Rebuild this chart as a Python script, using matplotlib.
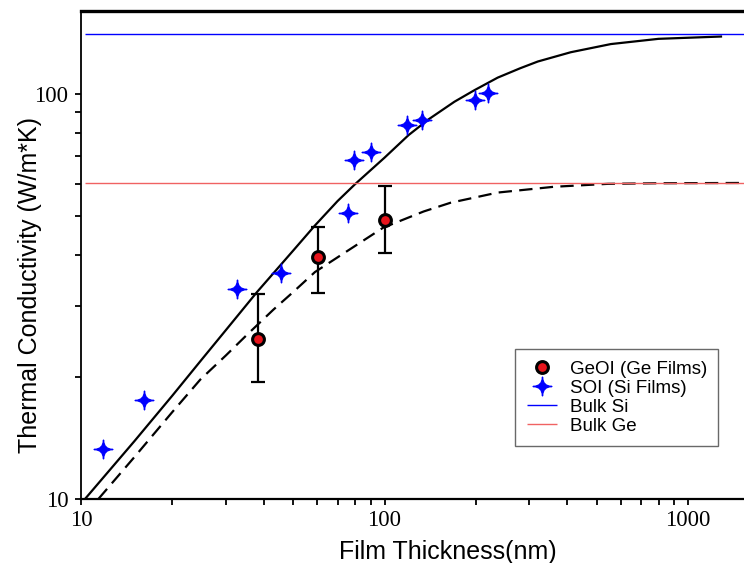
import numpy as np
import matplotlib
matplotlib.use("Agg")
import matplotlib.pyplot as plt
from matplotlib import font_manager
from matplotlib.path import Path

# measured points
soi_x = [11.8, 16.1, 32.7, 45.7, 76.0, 79.6, 90.0, 119, 133, 198, 220]
soi_y = [13.3, 17.5, 33.0, 36.1, 50.8, 68.7, 71.9, 83.8, 86.3, 96.6, 100.6]

geoi_x = [38.4, 60.5, 100]
geoi_y = [24.8, 39.6, 48.9]
geoi_lo = [19.4, 32.2, 40.5]
geoi_hi = [32.1, 47.0, 59.3]

# model curves
si_fit_x = [10.3, 15, 20, 25, 30, 38, 50, 59, 70, 80, 100, 120, 140, 170, 198, 236, 280, 320, 411, 557, 800, 1285]
si_fit_y = [10, 13.9, 18.0, 22.1, 26.1, 32.4, 41.0, 47.3, 54.3, 59.8, 69.5, 79, 86.5, 95.5, 102, 109.5, 115.5, 120, 126.5, 132.5, 136.5, 138.3]
ge_fit_x = [11.4, 15, 20, 24.7, 30, 35, 43, 50, 59, 75, 99, 134.6, 165, 236, 361, 545, 800, 1514]
ge_fit_y = [10, 12.7, 16.4, 19.7, 22.6, 25.3, 29.3, 32.4, 36.3, 40.8, 46.7, 51.2, 53.8, 57.0, 58.9, 59.9, 60.1, 60.2]

bulk_si = 140.6
bulk_ge = 60.3

# narrow sans for the axis titles if we have it
names = {f.name for f in font_manager.fontManager.ttflist}
if 'Liberation Sans Narrow' in names:
    lab_font, lab_size = 'Liberation Sans Narrow', 21.5
else:
    lab_font, lab_size = 'Liberation Sans', 18

# 4-point star marker
c = 0.02
star = Path([(0, 1), (c, c), (1, 0), (c, -c), (0, -1), (-c, -c), (-1, 0), (-c, c), (0, 1), (0, 1)],
            [Path.MOVETO] + [Path.CURVE3] * 8 + [Path.CLOSEPOLY])

fig = plt.figure(figsize=(7.44, 5.63), dpi=100)
ax = fig.add_axes([0.109, 0.1137, 0.891, 0.867])

ax.plot(si_fit_x, si_fit_y, color='black', lw=1.6)
ax.plot(ge_fit_x, ge_fit_y, color='black', lw=1.6, dashes=(6, 3.3))
ax.hlines(bulk_si, 10.3, 1600, color='#0000ff', lw=1.0, label='Bulk Si', zorder=2)
ax.hlines(bulk_ge, 10.3, 1600, color='#f06262', lw=1.0, label='Bulk Ge', zorder=2)

yerr = [np.array(geoi_y) - np.array(geoi_lo), np.array(geoi_hi) - np.array(geoi_y)]
ax.errorbar(geoi_x, geoi_y, yerr=yerr, fmt='none', ecolor='black', elinewidth=1.6,
            capsize=5, capthick=1.6, zorder=3)
ax.plot(geoi_x, geoi_y, 'o', ms=8.5, mfc='#e8141c', mec='black', mew=2.2,
        label='GeOI (Ge Films)', zorder=4, ls='none')
ax.plot(soi_x, soi_y, marker=star, ms=13.5, color='#0000ff', ls='none',
        label='SOI (Si Films)', zorder=4)

ax.set_xscale('log')
ax.set_yscale('log')
ax.set_xlim(10, 1530)
ax.set_ylim(10, 160)

ax.set_xticks([10, 100, 1000])
ax.set_xticklabels(['10', '100', '1000'])
ax.set_yticks([10, 100])
ax.set_yticklabels(['10', '100'])
ax.yaxis.set_minor_formatter(matplotlib.ticker.NullFormatter())
ax.xaxis.set_minor_formatter(matplotlib.ticker.NullFormatter())

for lab in ax.get_xticklabels() + ax.get_yticklabels():
    lab.set_fontfamily('Liberation Serif')
    lab.set_fontsize(16.5)

ax.tick_params(which='both', direction='out', length=4.2, width=1.3)
ax.tick_params(axis='y', which='major', pad=5)
ax.tick_params(axis='x', which='major', pad=4)

ax.spines['right'].set_visible(False)
ax.spines['top'].set_linewidth(2.4)
ax.spines['bottom'].set_linewidth(1.6)
ax.spines['left'].set_linewidth(1.3)

ax.set_xlabel('Film Thickness(nm)', fontfamily=lab_font, fontsize=lab_size)
ax.set_ylabel('Thermal Conductivity (W/m*K)', fontfamily=lab_font, fontsize=lab_size)
ax.xaxis.label.set_va('baseline')
ax.xaxis.set_label_coords(0.553, -0.123)
ax.yaxis.label.set_va('baseline')
ax.yaxis.set_label_coords(-0.0664, 0.4385)

h, l = ax.get_legend_handles_labels()
order = [l.index('GeOI (Ge Films)'), l.index('SOI (Si Films)'), l.index('Bulk Si'), l.index('Bulk Ge')]
leg = ax.legend([h[i] for i in order], [l[i] for i in order], loc='lower right',
                bbox_to_anchor=(0.961, 0.109), prop={'family': 'Liberation Sans', 'size': 13.5},
                fancybox=False, frameon=True, edgecolor='#444444', handlelength=1.6,
                borderpad=0.6, labelspacing=0.1, handletextpad=0.7, borderaxespad=0)
leg.get_frame().set_linewidth(1.0)

fig.savefig('out.png', dpi=100)
